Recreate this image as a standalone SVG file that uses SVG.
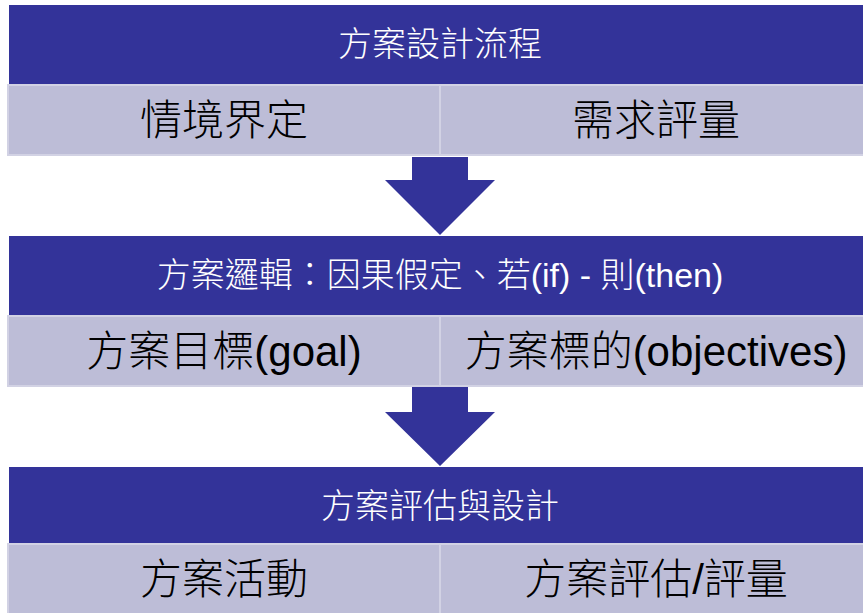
<svg xmlns="http://www.w3.org/2000/svg" width="863" height="613" viewBox="0 0 863 613">
<style>
.band{fill:#333399;}
.cell{fill:#bdbdd7;stroke:#d2d2e4;stroke-width:2;}
.arrow{fill:#333399;}
.bt{fill:#ffffff;font-family:"Liberation Sans","Noto Sans CJK TC",sans-serif;font-size:34px;font-weight:300;text-anchor:middle;dominant-baseline:central;}
.ct{fill:#000000;font-family:"Liberation Sans","Noto Sans CJK TC",sans-serif;font-size:42px;font-weight:300;text-anchor:middle;dominant-baseline:central;}
</style>
<rect width="863" height="613" fill="#ffffff"/>
<g id="connectors">
<polygon class="arrow" points="412,157 468,157 468,180 495,180 440,235 385,180 412,180"/>
<polygon class="arrow" points="412,387 468,387 468,412 495,412 440,466 385,412 412,412"/>
</g>
<g id="band1"><rect class="band" x="9" y="5" width="862" height="79"/><text class="bt" x="440" y="44">方案設計流程</text></g>
<g id="cell1a"><rect class="cell" x="8" y="85" width="432" height="70"/><text class="ct" x="224" y="120">情境界定</text></g>
<g id="cell1b"><rect class="cell" x="440" y="85" width="432" height="70"/><text class="ct" x="656" y="120">需求評量</text></g>
<g id="band2"><rect class="band" x="9" y="236" width="862" height="79"/><text class="bt" x="440" y="275">方案邏輯：因果假定、若(if) - 則(then)</text></g>
<g id="cell2a"><rect class="cell" x="8" y="316" width="432" height="70"/><text class="ct" x="224" y="351">方案目標(goal)</text></g>
<g id="cell2b"><rect class="cell" x="440" y="316" width="432" height="70"/><text class="ct" x="656" y="351">方案標的(objectives)</text></g>
<g id="band3"><rect class="band" x="9" y="467" width="862" height="76"/><text class="bt" x="440" y="506">方案評估與設計</text></g>
<g id="cell3a"><rect class="cell" x="8" y="544" width="432" height="72"/><text class="ct" x="224" y="579">方案活動</text></g>
<g id="cell3b"><rect class="cell" x="440" y="544" width="432" height="72"/><text class="ct" x="656" y="579">方案評估/評量</text></g>
</svg>
